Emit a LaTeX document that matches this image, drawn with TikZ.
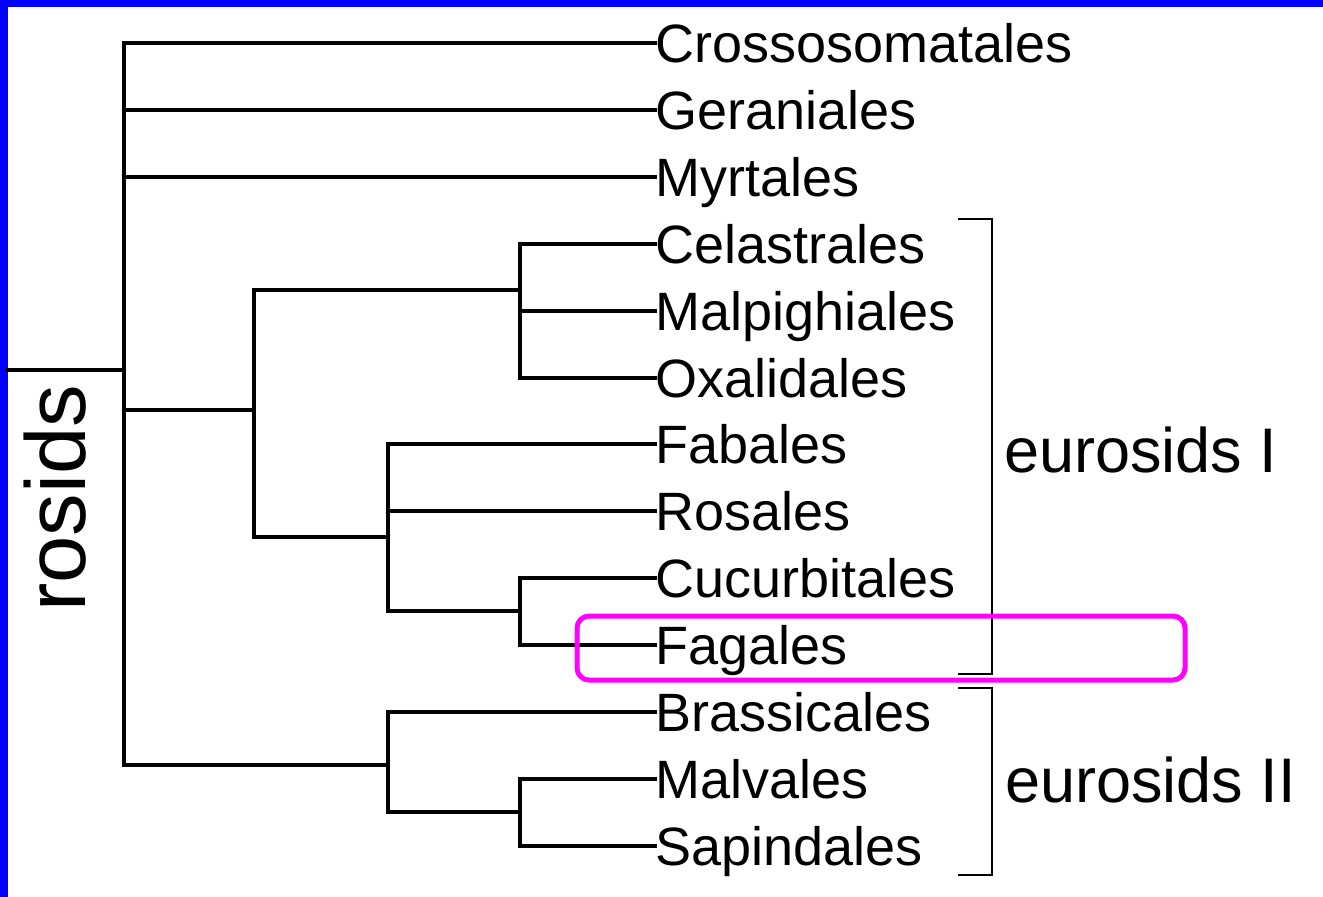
\documentclass[tikz,border=0pt]{standalone}
\usepackage{fontspec}
\setmainfont{Liberation Sans}
\definecolor{frameblue}{RGB}{0,0,255}
\definecolor{hilite}{RGB}{255,0,255}
\begin{document}
\begin{tikzpicture}[x=1pt,y=-1pt,
  treeline/.style={line width=3.8pt,line cap=rect,line join=miter},
  bracketline/.style={line width=2.6pt,line join=miter},
  leaf/.style={anchor=west,inner sep=0pt,text height=39pt,text depth=0pt,font=\fontsize{54}{60}\selectfont},
  grouplabel/.style={anchor=base west,inner sep=0pt,font=\fontsize{63}{70}\selectfont}]
\fill[white] (0,0) rectangle (1323,897);
\useasboundingbox (0,0) rectangle (1323,897);
\fill[frameblue] (0,0) rectangle (1323,7);
\fill[frameblue] (0,0) rectangle (8,897);

% leaves
\node[leaf] (cro) at (655,43) {Crossosomatales};
\node[leaf] (ger) at (655,110) {Geraniales};
\node[leaf] (myr) at (655,177) {Myrtales};
\node[leaf] (cel) at (655,244) {Celastrales};
\node[leaf] (mal) at (655,311) {Malpighiales};
\node[leaf] (oxa) at (655,378) {Oxalidales};
\node[leaf] (fab) at (655,444) {Fabales};
\node[leaf] (ros) at (655,511) {Rosales};
\node[leaf] (cuc) at (655,578) {Cucurbitales};
\node[leaf] (fag) at (655,645) {Fagales};
\node[leaf] (bra) at (655,712) {Brassicales};
\node[leaf] (mav) at (655,779) {Malvales};
\node[leaf] (sap) at (655,846) {Sapindales};

% internal nodes
\coordinate (stem) at (8,370);
\coordinate (root) at (124,370);
\coordinate (eI) at (254,410);
\coordinate (celN) at (520,290);
\coordinate (fabN) at (388,537);
\coordinate (cucN) at (520,611);
\coordinate (eII) at (388,765);
\coordinate (malN) at (520,812);

\draw[treeline] (stem) -- (root);
\draw[treeline] (root) |- (cro.west);
\draw[treeline] (root) |- (ger.west);
\draw[treeline] (root) |- (myr.west);
\draw[treeline] (root) |- (eI);
\draw[treeline] (root) |- (eII);

\draw[treeline] (eI) |- (celN);
\draw[treeline] (eI) |- (fabN);
\draw[treeline] (celN) |- (cel.west);
\draw[treeline] (celN) |- (mal.west);
\draw[treeline] (celN) |- (oxa.west);
\draw[treeline] (fabN) |- (fab.west);
\draw[treeline] (fabN) |- (ros.west);
\draw[treeline] (fabN) |- (cucN);
\draw[treeline] (cucN) |- (cuc.west);
\draw[treeline] (cucN) |- (fag.west);

\draw[treeline] (eII) |- (bra.west);
\draw[treeline] (eII) |- (malN);
\draw[treeline] (malN) |- (mav.west);
\draw[treeline] (malN) |- (sap.west);

% brackets
\coordinate (bIa) at (958,219);
\coordinate (bIb) at (992,219);
\coordinate (bIc) at (992,674);
\coordinate (bId) at (958,674);
\draw[bracketline] (bIa) -- (bIb) -- (bIc) -- (bId);
\coordinate (bIIa) at (958,688);
\coordinate (bIIb) at (992,688);
\coordinate (bIIc) at (992,875);
\coordinate (bIId) at (958,875);
\draw[bracketline] (bIIa) -- (bIIb) -- (bIIc) -- (bIId);

\node[grouplabel] (eIlab) at (1004,472) {eurosids I};
\node[grouplabel] (eIIlab) at (1005,802) {eurosids II};

\node[anchor=base west,inner sep=0pt,rotate=90,font=\fontsize{85}{90}\selectfont] (rosids) at (85,612) {rosids};

% highlight
\draw[hilite,line width=5pt,rounded corners=12pt] (577,616) rectangle (1185,680);
\end{tikzpicture}
\end{document}
